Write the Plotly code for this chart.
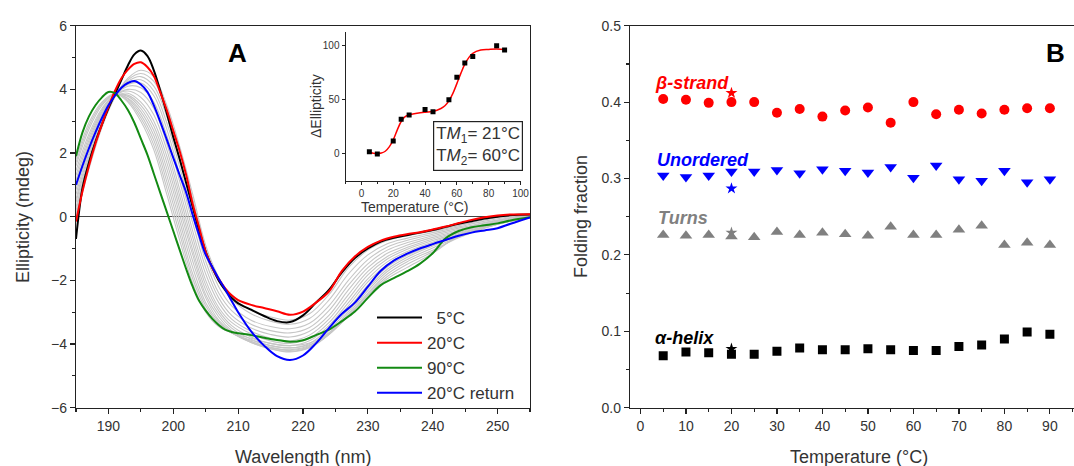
import plotly.graph_objects as go

W, H = 1074, 466

# ---------------- Panel A: CD spectra ----------------
wl = [185, 186, 187, 188, 189, 190, 191, 192, 193, 194, 195, 196, 197, 198, 199, 200,
      201, 202, 203, 204, 205, 206, 207, 208, 209, 210, 212, 214, 216, 218, 220, 222,
      224, 226, 228, 230, 232, 234, 236, 238, 240, 242, 244, 246, 248, 250, 252, 255]

cd_5C = [-0.7, 0.9, 1.7, 2.35, 2.9, 3.4, 3.85, 4.3, 4.75, 5.1, 5.22, 5.05, 4.6, 3.95, 3.25, 2.5,
         1.8, 1.05, 0.3, -0.45, -1.1, -1.6, -2.0, -2.3, -2.55, -2.72, -2.92, -3.12, -3.28, -3.31, -3.1, -2.7,
         -2.3, -1.75, -1.3, -1.0, -0.78, -0.66, -0.58, -0.5, -0.42, -0.32, -0.22, -0.14, -0.06, 0.0, 0.05, 0.07]

cd_20C = [-0.15, 0.8, 1.6, 2.3, 2.9, 3.45, 3.95, 4.35, 4.62, 4.8, 4.85, 4.7, 4.42, 3.9, 3.35, 2.7,
          2.05, 1.3, 0.4, -0.35, -1.1, -1.6, -1.95, -2.25, -2.47, -2.62, -2.77, -2.87, -2.97, -3.08, -2.98, -2.7,
          -2.35, -1.7, -1.25, -0.95, -0.75, -0.63, -0.55, -0.49, -0.4, -0.31, -0.2, -0.1, -0.02, 0.04, 0.07, 0.08]

cd_90C = [1.9, 2.65, 3.15, 3.5, 3.75, 3.92, 3.88, 3.65, 3.35, 2.95, 2.45, 1.95, 1.35, 0.75, 0.15, -0.45,
          -1.05, -1.65, -2.2, -2.65, -2.95, -3.2, -3.4, -3.55, -3.62, -3.66, -3.72, -3.8, -3.87, -3.93, -3.88, -3.72,
          -3.55, -3.28, -2.98, -2.55, -2.15, -1.93, -1.72, -1.48, -1.15, -0.68, -0.45, -0.33, -0.27, -0.21, -0.12, -0.02]

cd_20C_return = [1.0, 1.6, 2.15, 2.65, 3.1, 3.5, 3.8, 4.05, 4.2, 4.26, 4.15, 3.92, 3.5, 2.98, 2.42, 1.85,
                 1.3, 0.75, 0.05, -0.6, -1.2, -1.57, -1.95, -2.28, -2.65, -3.0, -3.6, -4.05, -4.38, -4.5, -4.36, -3.98,
                 -3.5, -3.05, -2.7, -2.2, -1.7, -1.38, -1.17, -1.0, -0.86, -0.73, -0.6, -0.5, -0.43, -0.36, -0.22, -0.02]

wl_grey = [185, 187, 189, 191, 193, 195, 197, 199, 201, 203, 205, 207, 209, 212, 215, 218, 221,
           224, 227, 230, 233, 236, 240, 244, 248, 252, 255]

cd_10C = [0.0, 1.5, 2.8, 3.75, 4.35, 4.6, 4.4, 3.5, 2.2, 0.7, -0.9, -1.9, -2.5, -2.95, -3.15, -3.25, -3.05, -2.45, -1.6, -1.05, -0.75, -0.6, -0.45, -0.28, -0.1, 0.03, 0.06]
cd_15C = [0.1, 1.6, 2.9, 3.8, 4.3, 4.5, 4.25, 3.35, 2.05, 0.55, -1.0, -2.0, -2.6, -3.05, -3.28, -3.38, -3.2, -2.62, -1.8, -1.2, -0.85, -0.68, -0.5, -0.32, -0.14, 0.0, 0.05]
cd_25C = [0.2, 1.7, 2.95, 3.8, 4.25, 4.4, 4.1, 3.15, 1.8, 0.3, -1.2, -2.2, -2.8, -3.25, -3.45, -3.52, -3.35, -2.8, -2.0, -1.35, -0.95, -0.75, -0.55, -0.36, -0.18, -0.03, 0.03]
cd_30C = [0.3, 1.8, 3.0, 3.8, 4.2, 4.3, 3.95, 2.95, 1.55, 0.05, -1.4, -2.4, -2.95, -3.38, -3.58, -3.65, -3.48, -2.95, -2.15, -1.48, -1.05, -0.82, -0.6, -0.4, -0.2, -0.05, 0.02]
cd_35C = [0.45, 1.9, 3.05, 3.8, 4.15, 4.2, 3.8, 2.75, 1.3, -0.2, -1.6, -2.55, -3.1, -3.5, -3.7, -3.78, -3.6, -3.1, -2.3, -1.6, -1.15, -0.9, -0.65, -0.44, -0.23, -0.07, 0.01]
cd_40C = [0.55, 2.0, 3.1, 3.8, 4.1, 4.05, 3.6, 2.55, 1.1, -0.45, -1.8, -2.7, -3.22, -3.6, -3.82, -3.9, -3.72, -3.22, -2.45, -1.72, -1.25, -0.97, -0.7, -0.47, -0.25, -0.08, 0.0]
cd_45C = [0.7, 2.1, 3.15, 3.8, 4.0, 3.9, 3.4, 2.3, 0.85, -0.65, -2.0, -2.85, -3.32, -3.68, -3.9, -3.98, -3.82, -3.33, -2.58, -1.83, -1.33, -1.03, -0.75, -0.5, -0.27, -0.09, -0.01]
cd_50C = [0.85, 2.2, 3.2, 3.8, 3.95, 3.75, 3.2, 2.1, 0.65, -0.85, -2.15, -2.95, -3.42, -3.78, -3.98, -4.05, -3.9, -3.42, -2.7, -1.95, -1.42, -1.1, -0.8, -0.53, -0.29, -0.1, -0.01]
cd_55C = [1.0, 2.3, 3.25, 3.78, 3.88, 3.6, 3.0, 1.9, 0.45, -1.05, -2.3, -3.05, -3.5, -3.85, -4.05, -4.12, -3.98, -3.5, -2.8, -2.05, -1.5, -1.15, -0.85, -0.56, -0.3, -0.11, -0.02]
cd_60C = [1.15, 2.4, 3.3, 3.78, 3.82, 3.5, 2.85, 1.7, 0.25, -1.2, -2.45, -3.15, -3.58, -3.92, -4.12, -4.18, -4.05, -3.58, -2.9, -2.15, -1.58, -1.22, -0.88, -0.58, -0.32, -0.12, -0.02]
cd_65C = [1.3, 2.5, 3.35, 3.8, 3.78, 3.4, 2.7, 1.5, 0.05, -1.4, -2.55, -3.25, -3.62, -3.95, -4.15, -4.23, -4.1, -3.65, -2.98, -2.25, -1.65, -1.28, -0.92, -0.6, -0.33, -0.13, -0.02]
cd_70C = [1.45, 2.6, 3.4, 3.82, 3.72, 3.3, 2.55, 1.3, -0.15, -1.6, -2.7, -3.3, -3.65, -3.95, -4.15, -4.25, -4.12, -3.7, -3.05, -2.32, -1.72, -1.35, -0.98, -0.64, -0.35, -0.14, -0.02]
cd_75C = [1.6, 2.75, 3.5, 3.85, 3.7, 3.2, 2.4, 1.1, -0.35, -1.8, -2.8, -3.35, -3.65, -3.92, -4.1, -4.2, -4.08, -3.7, -3.1, -2.4, -1.8, -1.42, -1.05, -0.66, -0.36, -0.14, -0.02]
cd_80C = [1.7, 2.85, 3.55, 3.85, 3.65, 3.1, 2.25, 0.9, -0.55, -1.95, -2.9, -3.4, -3.65, -3.88, -4.05, -4.12, -4.02, -3.68, -3.12, -2.45, -1.88, -1.5, -1.1, -0.62, -0.35, -0.14, -0.02]
cd_85C = [1.8, 2.95, 3.6, 3.87, 3.6, 3.0, 2.1, 0.7, -0.75, -2.1, -3.0, -3.45, -3.65, -3.82, -3.98, -4.05, -3.97, -3.65, -3.12, -2.48, -1.95, -1.6, -1.15, -0.6, -0.33, -0.14, -0.02]

grey_curves = [cd_10C, cd_15C, cd_25C, cd_30C, cd_35C, cd_40C, cd_45C, cd_50C,
               cd_55C, cd_60C, cd_65C, cd_70C, cd_75C, cd_80C, cd_85C]

legend_names = ["\u20075°C", "20°C", "90°C", "20°C return"]

# ---------------- Inset: melting curve ----------------
inset_temp = [5, 10, 20, 25, 30, 40, 45, 55, 60, 65, 70, 85, 90]
inset_dell = [2, 0, 12, 32, 36, 41, 39, 50, 71, 84, 90, 100, 96]
fit_temp = [5, 7.5, 10, 12.5, 15, 17.5, 20, 22.5, 25, 27.5, 30, 35, 40, 45, 50, 52.5,
            55, 57.5, 60, 62.5, 65, 67.5, 70, 75, 80, 85, 90]
fit_dell = [1.5, 0.6, 0.3, 0.8, 2.5, 6.5, 13, 22, 30, 34.5, 36.3, 37.7, 38.6, 39.3, 42.0, 44.5,
            49, 56, 65, 74.5, 83, 89, 93, 96, 96.6, 97, 96.6]

# ---------------- Panel B: folding fractions ----------------
temp_b = [5, 10, 15, 20, 25, 30, 35, 40, 45, 50, 55, 60, 65, 70, 75, 80, 85, 90]
beta_strand = [0.404, 0.403, 0.399, 0.400, 0.400, 0.386, 0.391, 0.381, 0.389, 0.393, 0.373, 0.400,
               0.384, 0.390, 0.385, 0.390, 0.392, 0.392]
unordered = [0.304, 0.302, 0.304, 0.309, 0.309, 0.311, 0.307, 0.312, 0.310, 0.308, 0.315, 0.301,
             0.317, 0.299, 0.297, 0.310, 0.295, 0.299]
turns = [0.226, 0.225, 0.226, 0.224, 0.223, 0.230, 0.226, 0.229, 0.227, 0.225, 0.237, 0.226,
         0.226, 0.233, 0.238, 0.213, 0.216, 0.213]
alpha_helix = [0.068, 0.073, 0.072, 0.070, 0.070, 0.074, 0.078, 0.076, 0.076, 0.077, 0.076, 0.075,
               0.075, 0.080, 0.082, 0.090, 0.099, 0.096]
star_temp = [20]
star_beta = [0.412]
star_unordered = [0.287]
star_turns = [0.229]
star_helix = [0.077]


def px(x):
    return x / W


def py(y):
    return 1 - y / H


FONT = "Arial, Liberation Sans, sans-serif"
AX = "#222222"
TXT = "#333333"

fig = go.Figure()

# grey intermediate spectra
for g in grey_curves:
    fig.add_trace(go.Scatter(x=wl_grey, y=g, mode="lines", line=dict(color="#c6c6c6", width=1.1, shape="spline"),
                             showlegend=False, hoverinfo="skip", xaxis="x", yaxis="y"))

for ys, col, nm in zip([cd_5C, cd_20C, cd_90C, cd_20C_return],
                       ["#000000", "#ff0000", "#138a13", "#0000ff"], legend_names):
    fig.add_trace(go.Scatter(x=wl, y=ys, mode="lines", line=dict(color=col, width=2, shape="spline"),
                             name=nm, xaxis="x", yaxis="y"))

# inset
fig.add_trace(go.Scatter(x=fit_temp, y=fit_dell, mode="lines", line=dict(color="#ff0000", width=1.5, shape="spline"),
                         showlegend=False, xaxis="x3", yaxis="y3"))
fig.add_trace(go.Scatter(x=inset_temp, y=inset_dell, mode="markers",
                         marker=dict(symbol="square", size=5, color="#000000"),
                         showlegend=False, xaxis="x3", yaxis="y3"))

# panel B
fig.add_trace(go.Scatter(x=temp_b, y=beta_strand, mode="markers", marker=dict(symbol="circle", size=10, color="#ff0000"),
                         showlegend=False, xaxis="x2", yaxis="y2"))
fig.add_trace(go.Scatter(x=temp_b, y=unordered, mode="markers", marker=dict(symbol="triangle-down", size=11, color="#0000ff"),
                         showlegend=False, xaxis="x2", yaxis="y2"))
fig.add_trace(go.Scatter(x=temp_b, y=turns, mode="markers", marker=dict(symbol="triangle-up", size=11, color="#808080"),
                         showlegend=False, xaxis="x2", yaxis="y2"))
fig.add_trace(go.Scatter(x=temp_b, y=alpha_helix, mode="markers", marker=dict(symbol="square", size=9, color="#000000"),
                         showlegend=False, xaxis="x2", yaxis="y2"))
for ys, col in zip([star_beta, star_unordered, star_turns, star_helix], ["#ff0000", "#0000ff", "#808080", "#000000"]):
    fig.add_trace(go.Scatter(x=star_temp, y=ys, mode="markers", marker=dict(symbol="star", size=9, color=col),
                             showlegend=False, xaxis="x2", yaxis="y2"))

tickfont = dict(family=FONT, size=14, color=TXT)
common = dict(showline=True, linecolor=AX, linewidth=1.2, ticks="outside", ticklen=5, tickwidth=1.2,
              tickcolor=AX, showgrid=False, tickfont=tickfont, automargin=False)

fig.update_layout(
    width=W, height=H, margin=dict(l=0, r=0, t=0, b=0, autoexpand=False),
    paper_bgcolor="white", plot_bgcolor="white",
    font=dict(family=FONT, color=TXT),
    xaxis=dict(domain=[px(76), px(530)], range=[185, 255], tick0=190, dtick=10, mirror=True,
               minor=dict(dtick=5, ticks="outside", ticklen=3, tickcolor=AX), anchor="y",
               zeroline=False, **common),
    yaxis=dict(domain=[py(407.7), py(25.7)], range=[-6, 6], dtick=2, mirror=True,
               minor=dict(dtick=1, ticks="outside", ticklen=3, tickcolor=AX), anchor="x",
               zeroline=True, zerolinecolor="#444444", zerolinewidth=1.5, **common),
    xaxis2=dict(domain=[px(630), 1.0], range=[-2.3, 95.3], tick0=0, dtick=10, mirror=True,
                minor=dict(dtick=5, ticks="outside", ticklen=3, tickcolor=AX), anchor="y2",
                zeroline=False, **common),
    yaxis2=dict(domain=[py(407.7), py(25.7)], range=[0, 0.5], dtick=0.1, tickformat=".1f",
                minor=dict(dtick=0.05, ticks="outside", ticklen=3, tickcolor=AX), anchor="x2",
                zeroline=False, **common),
    xaxis3=dict(domain=[px(345.5), px(520.5)], range=[-10, 100], dtick=20, anchor="y3", automargin=False,
                showline=True, linecolor=AX, linewidth=1, ticks="outside", ticklen=3, tickcolor=AX,
                minor=dict(dtick=10, ticks="outside", ticklen=2, tickcolor=AX),
                showgrid=False, zeroline=False, tickfont=dict(family=FONT, size=10, color=TXT)),
    yaxis3=dict(domain=[py(181), py(31.7)], range=[-25, 113], tickvals=[0, 50, 100], anchor="x3", automargin=False,
                showline=True, linecolor=AX, linewidth=1, ticks="outside", ticklen=3, tickcolor=AX,
                showgrid=False, zeroline=False, tickfont=dict(family=FONT, size=10, color=TXT)),
    legend=dict(x=px(372), y=py(300), xanchor="left", yanchor="top", bgcolor="rgba(0,0,0,0)",
                font=dict(family=FONT, size=17, color=TXT), itemwidth=45, tracegroupgap=0),
)

ann = []


def add_text(x, y, text, size, color=TXT, angle=0, xanchor="center", bold=False, italic=False, **kw):
    t = text
    if bold:
        t = "<b>" + t + "</b>"
    if italic:
        t = "<i>" + t + "</i>"
    ann.append(dict(x=px(x), y=py(y), xref="paper", yref="paper", text=t, showarrow=False,
                    textangle=angle, xanchor=xanchor, yanchor="middle",
                    font=dict(family=FONT, size=size, color=color), **kw))


add_text(23, 217, "Ellipticity (mdeg)", 18, angle=-90)
add_text(303, 457, "Wavelength (nm)", 18)
add_text(581, 217, "Folding fraction", 18, angle=-90)
add_text(859, 457, "Temperature (°C)", 18)
add_text(415, 206.5, "Temperature (°C)", 14)
add_text(316, 106, "ΔEllipticity", 14, angle=-90)
add_text(237, 53, "A", 26, color="#000000", bold=True)
add_text(1055, 53, "B", 26, color="#000000", bold=True)
add_text(653, 83, "β-strand", 18, color="#ff0000", xanchor="left", bold=True, italic=True)
add_text(655, 160, "Unordered", 18, color="#0000ff", xanchor="left", bold=True, italic=True)
add_text(656, 218, "Turns", 18, color="#808080", xanchor="left", bold=True, italic=True)
add_text(653, 338, "α-helix", 18, color="#000000", xanchor="left", bold=True, italic=True)

ann.append(dict(x=px(433), y=py(121), xref="paper", yref="paper", xanchor="left", yanchor="top",
                text="T<i>M</i><sub>1</sub>= 21°C<br>T<i>M</i><sub>2</sub>= 60°C", showarrow=False, align="left",
                bordercolor="#222222", borderwidth=1.2, borderpad=2, bgcolor="white",
                font=dict(family=FONT, size=17, color=TXT)))

fig.update_layout(annotations=ann)

fig.write_html("out.html", config={"displayModeBar": False, "staticPlot": True},
               post_script="document.body.style.margin='0';document.body.style.overflow='hidden';")
